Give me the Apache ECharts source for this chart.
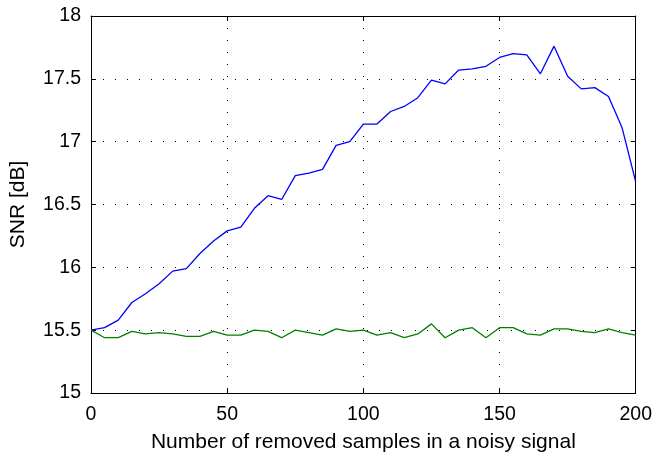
<!DOCTYPE html>
<html>
<head>
<meta charset="utf-8">
<script src="https://cdn.jsdelivr.net/npm/echarts@6/dist/echarts.min.js"></script>
<style>
  html, body { margin: 0; padding: 0; background: #fff; }
  #chart { width: 655px; height: 458px; }
</style>
</head>
<body>
<div id="chart"></div>
<script>
// removed samples (x) and SNR values
var removed = [0, 5, 10, 15, 20, 25, 30, 35, 40, 45, 50, 55, 60, 65, 70, 75, 80, 85, 90, 95,
  100, 105, 110, 115, 120, 125, 130, 135, 140, 145, 150, 155, 160, 165, 170, 175, 180, 185, 190, 195, 200];
var snrBlue = [15.50, 15.52, 15.58, 15.72, 15.79, 15.87, 15.97, 15.99, 16.11, 16.21, 16.29, 16.32, 16.47, 16.57, 16.54,
  16.73, 16.75, 16.78, 16.97, 17.00, 17.14, 17.14, 17.24, 17.28, 17.35, 17.49, 17.46, 17.57, 17.58, 17.60,
  17.67, 17.70, 17.69, 17.54, 17.76, 17.52, 17.42, 17.43, 17.36, 17.11, 16.68];
var snrGreen = [15.50, 15.44, 15.44, 15.49, 15.47, 15.48, 15.47, 15.45, 15.45, 15.49, 15.46, 15.46, 15.50, 15.49, 15.44,
  15.50, 15.48, 15.46, 15.51, 15.49, 15.50, 15.46, 15.48, 15.44, 15.47, 15.55, 15.44, 15.50, 15.52, 15.44,
  15.52, 15.52, 15.47, 15.46, 15.51, 15.51, 15.49, 15.48, 15.51, 15.48, 15.46];

function pairs(xs, ys){
  var out = [];
  for(var i=0; i<xs.length; i++){
    out.push([xs[i], ys[i]]);
  }
  return out
}

var font = 'Liberation Sans, Arial, Helvetica, sans-serif';
var tickStyle = { show: true, inside: true, length: 5, lineStyle: { color: '#000', width: 1 } };
var lineStyleAxis = { show: true, onZero: false, lineStyle: { color: '#000', width: 1 } };
var gridDots = { show: true, lineStyle: { color: '#000', width: 1, type: [1, 11] } };

var chart = echarts.init(document.getElementById('chart'));
chart.setOption({
  animation: false,
  backgroundColor: '#fff',
  grid: { left: 91, right: 18, top: 16, bottom: 64, show: false },
  xAxis: [{
    type: 'value', min: 0, max: 200, interval: 50, position: 'bottom',
    axisLine: lineStyleAxis, axisTick: tickStyle, splitLine: gridDots,
    axisLabel: { color: '#000', fontSize: 19.5, fontFamily: font, margin: 12 },
    name: 'Number of removed samples in a noisy signal', nameLocation: 'middle', nameGap: 39,
    nameTextStyle: { color: '#000', fontSize: 21, fontFamily: font }
  }, {
    type: 'value', min: 0, max: 200, interval: 50, position: 'top',
    axisLine: lineStyleAxis, axisTick: tickStyle, splitLine: { show: false },
    axisLabel: { show: false }
  }],
  yAxis: [{
    type: 'value', min: 15, max: 18, interval: 0.5, position: 'left',
    axisLine: lineStyleAxis, axisTick: tickStyle, splitLine: gridDots,
    axisLabel: { color: '#000', fontSize: 19.5, fontFamily: font, margin: 10, padding: [5, 0, 0, 0] },
    name: 'SNR [dB]', nameLocation: 'middle', nameGap: 62, nameRotate: 90,
    nameTextStyle: { color: '#000', fontSize: 21, fontFamily: font }
  }, {
    type: 'value', min: 15, max: 18, interval: 0.5, position: 'right',
    axisLine: lineStyleAxis, axisTick: tickStyle, splitLine: { show: false },
    axisLabel: { show: false }
  }],
  series: [{
    type: 'line', data: pairs(removed, snrBlue), showSymbol: false,
    lineStyle: { color: '#0000ff', width: 1.3 }, itemStyle: { color: '#0000ff' }
  }, {
    type: 'line', data: pairs(removed, snrGreen), showSymbol: false,
    lineStyle: { color: '#008000', width: 1.3 }, itemStyle: { color: '#008000' }
  }]
});
</script>
</body>
</html>
